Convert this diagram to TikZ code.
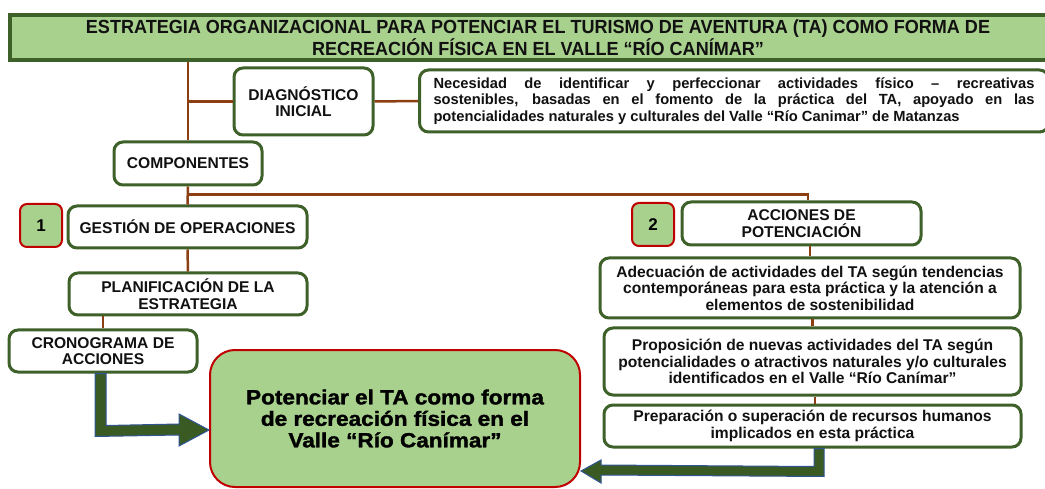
\documentclass[tikz,border=0pt]{standalone}
\usepackage{fontspec}
\setmainfont{Liberation Sans}
\newfontfamily\titlefont[FakeStretch=0.95]{Liberation Sans}
\newfontfamily\heavyfont[FakeStretch=1.1,FakeBold=1.6]{Liberation Sans}
\usetikzlibrary{calc}
\definecolor{boxgreen}{HTML}{A9D18E}
\definecolor{darkgreen}{HTML}{3E6029}
\definecolor{connbrown}{HTML}{8B3F12}
\definecolor{redb}{HTML}{C00000}
\definecolor{arrfill}{HTML}{3A5A24}
\definecolor{arrline}{HTML}{2F5597}
\definecolor{txt}{HTML}{111111}
\begin{document}
\begin{tikzpicture}[x=1pt,y=-1pt,
  box/.style={draw=darkgreen, line width=3pt, rounded corners=9pt, fill=white, align=center,
    inner sep=0pt, text=txt, font=\fontsize{15.6}{16.5}\selectfont\bfseries},
  numbox/.style={draw=redb, line width=2pt, fill=boxgreen, rounded corners=7pt, minimum width=42pt,
    minimum height=43pt, inner sep=0pt, font=\fontsize{17}{20}\selectfont\bfseries},
  conn/.style={draw=connbrown, line width=2.5pt},
  bigarrow/.style={fill=arrfill, draw=arrline, line width=1pt, line join=miter}]
\useasboundingbox (0,0) rectangle (1045,489);
\begin{scope}
\clip (0,0) rectangle (1045,489);
% title
\node[draw=darkgreen, line width=3.5pt, fill=boxgreen, minimum width=1056pt, minimum height=45pt,
  inner sep=0pt, align=center, text=txt, font=\titlefont\fontsize{19}{19}\selectfont\bfseries]
  (title) at (538,37.5) {ESTRATEGIA ORGANIZACIONAL PARA POTENCIAR EL TURISMO DE AVENTURA (TA) COMO FORMA DE\\
  RECREACIÓN FÍSICA EN EL VALLE “RÍO CANÍMAR”};
% nodes
\node[box, minimum width=139pt, minimum height=67pt] (diag) at (303.5,101.5) {DIAGNÓSTICO\\INICIAL};
\node[box, anchor=west, minimum height=62pt, inner xsep=14pt, align=left,
  font=\fontsize{14.7}{16.3}\selectfont\bfseries] (nec) at (418,101)
  {\makebox[601pt][s]{Necesidad de identificar y perfeccionar actividades físico – recreativas}\\
   \makebox[601pt][s]{sostenibles, basadas en el fomento de la práctica del TA, apoyado en las}\\
   potencialidades naturales y culturales del Valle “Río Canimar” de Matanzas};
\node[box, minimum width=148pt, minimum height=43pt] (comp) at (188,163.5) {COMPONENTES};
\node[numbox] (one) at (41,225.5) {1};
\node[box, minimum width=239pt, minimum height=42pt] (gest) at (187.5,227) {GESTIÓN DE OPERACIONES};
\node[box, minimum width=238pt, minimum height=42pt] (plan) at (188,294) {PLANIFICACIÓN DE LA\\ESTRATEGIA};
\node[box, minimum width=188pt, minimum height=42pt] (cron) at (103,351) {CRONOGRAMA DE\\ACCIONES};
\node[numbox] (two) at (653,224.5) {2};
\node[box, minimum width=239pt, minimum height=43pt] (acc) at (801.5,223.5) {ACCIONES DE\\POTENCIACIÓN};
\node[box, minimum width=420pt, minimum height=60pt] (ade) at (810,288)
  {Adecuación de actividades del TA según tendencias\\contemporáneas para esta práctica y la atención a\\elementos de sostenibilidad};
\node[box, minimum width=417pt, minimum height=67pt] (prop) at (812.5,361.5)
  {Proposición de nuevas actividades del TA según\\potencialidades o atractivos naturales y/o culturales\\identificados en el Valle “Río Canímar”};
\node[box, minimum width=417pt, minimum height=42pt] (prep) at (812.5,426)
  {Preparación o superación de recursos humanos\\implicados en esta práctica};
\node[draw=redb, line width=2pt, fill=boxgreen, rounded corners=25pt, minimum width=370pt,
  minimum height=137pt, inner sep=0pt, align=center, text=black,
  font=\heavyfont\fontsize{20.5}{21.5}\selectfont\bfseries] (pot) at (395,418.5)
  {Potenciar el TA como forma\\de recreación física en el\\Valle “Río Canímar”};
% connectors
\draw[conn] (title.south -| comp.north) -- (comp.north);
\draw[conn] (diag.west) -- (diag.west -| comp.north);
\draw[conn] (diag.east) -- (nec.west);
\draw[conn] (comp.south) -- (gest.north);
\coordinate (jn) at ($(comp.south)+(0,8)$);
\draw[conn] (jn) -| ($(acc.north)+(6.5,0)$);
\draw[conn] (gest.south) -- (plan.north);
\draw[conn] (plan.south -| cron.north) -- (cron.north);
\draw[conn] (ade.north) -- (ade.north |- acc.south);
\draw[conn] (prop.north) -- (prop.north |- ade.south);
\draw[conn] ($(prep.north)+(2.5,0)$) -- ($(prep.north |- prop.south)+(2.5,0)$);
% big arrows
\path[bigarrow] ($(cron.south)+(-8,0)$) -- ($(cron.south)+(-8,63)$) -- ($(pot.west)+(-30,16.5)$)
  -- ($(pot.west)+(-30,27.5)$) -- ($(pot.west)+(0,11.5)$) -- ($(pot.west)+(-30,-4.5)$)
  -- ($(pot.west)+(-30,5.5)$) -- ($(cron.south)+(3,52)$) -- ($(cron.south)+(3,0)$) -- cycle;
\path[bigarrow] ($(prep.south)+(1.5,0)$) -- ($(prep.south)+(1.5,18)$) -- ($(pot.east)+(20,46.5)$)
  -- ($(pot.east)+(20,41.5)$) -- ($(pot.east)+(0,52.5)$) -- ($(pot.east)+(20,64.5)$)
  -- ($(pot.east)+(20,56.5)$) -- ($(prep.south)+(11.5,28)$) -- ($(prep.south)+(11.5,0)$) -- cycle;
\end{scope}
\end{tikzpicture}
\end{document}
